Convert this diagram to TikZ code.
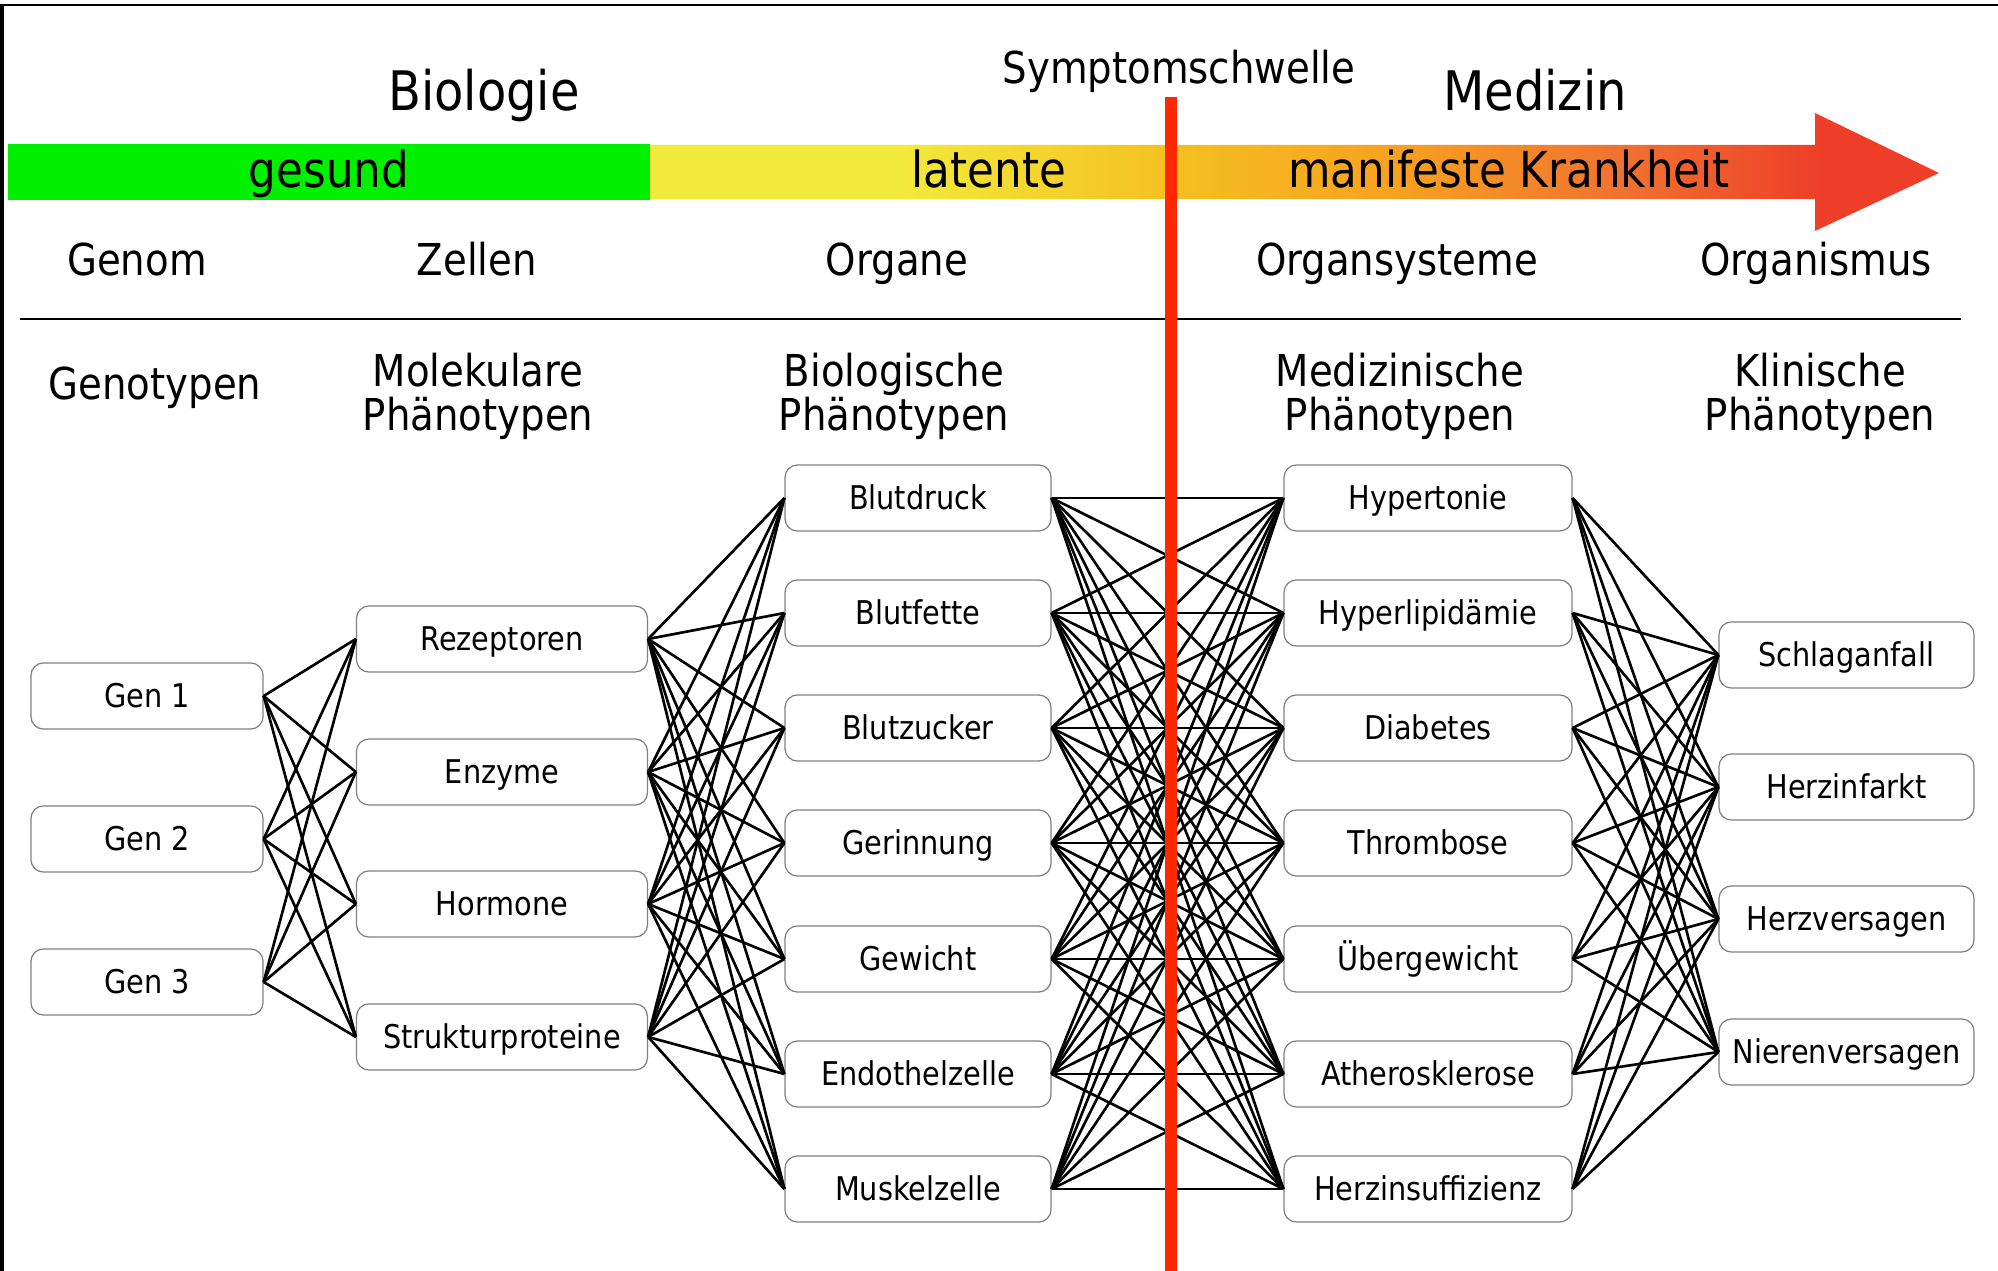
\documentclass[tikz,border=0pt]{standalone}
\usepackage{fontspec}
\setmainfont{DejaVu Sans}[FakeStretch=0.88]
\definecolor{gesundgreen}{RGB}{0,240,0}
\definecolor{latentyellow}{RGB}{242,234,58}
\definecolor{krankgold}{RGB}{245,192,32}
\definecolor{krankorange}{RGB}{247,160,32}
\definecolor{krankorangered}{RGB}{240,112,48}
\definecolor{krankred}{RGB}{238,62,40}
\definecolor{schwellered}{RGB}{255,40,0}
\pgfdeclarehorizontalshading{krankheit}{100bp}{color(0bp)=(latentyellow);
  color(34.7bp)=(latentyellow); color(45.2bp)=(krankgold); color(54.2bp)=(krankorange);
  color(62.9bp)=(krankorangered); color(70.5bp)=(krankred); color(100bp)=(krankred)}

\begin{document}
\begin{tikzpicture}[
  n/.style={draw=black!50, line width=0.35pt, rounded corners=3.5pt, fill=white,
    font=\fontsize{9.3}{11}\selectfont, minimum height=0.66cm, inner ysep=0pt,
    text height=6.8pt, text depth=0pt},
  c1/.style={n, minimum width=2.32cm},
  c2/.style={n, minimum width=2.91cm},
  c3/.style={n, minimum width=2.66cm},
  c4/.style={n, minimum width=2.88cm},
  c5/.style={n, minimum width=2.55cm},
  l/.style={line width=0.75pt},
  big/.style={anchor=base, font=\fontsize{15.5}{18}\selectfont},
  sw/.style={anchor=base, font=\fontsize{12.5}{15}\selectfont},
  bandtext/.style={anchor=base, font=\fontsize{14.1}{17}\selectfont},
  hd/.style={anchor=base, align=center, font=\fontsize{12.5}{12.7}\selectfont},
  thresh/.style={draw=schwellered, line width=3.6pt}
]
\useasboundingbox (0,0) rectangle (19.98,-12.71);
% frame
\draw[line width=0.7pt] (0,-0.05) -- (19.98,-0.05);
\draw[line width=0.9pt] (0.02,-0.05) -- (0.02,-12.71);

% band: gesund -> latente -> manifeste Krankheit
\fill[gesundgreen] (0.08,-1.44) rectangle (6.50,-2.00);
\shade[shading=krankheit]
  (6.50,-1.45) -- (18.15,-1.45) -- (18.15,-1.13) -- (19.39,-1.73)
  -- (18.15,-2.31) -- (18.15,-1.99) -- (6.50,-1.99) -- cycle;

\node[big] (bio) at (4.84,-1.11) {Biologie};
\node[big] (med) at (15.35,-1.11) {Medizin};
\node[sw] (schwelle) at (11.79,-0.84) {Symptomschwelle};
\node[bandtext] (gesund) at (3.29,-1.88) {gesund};
\node[bandtext] (latent) at (9.89,-1.88) {latente};
\node[bandtext] (manifest) at (15.09,-1.88) {manifeste Krankheit};

% levels
\node[sw] (genom) at (1.37,-2.76) {Genom};
\node[sw] (zellen) at (4.77,-2.76) {Zellen};
\node[sw] (organe) at (8.97,-2.76) {Organe};
\node[sw] (osys) at (13.97,-2.76) {Organsysteme};
\node[sw] (orgm) at (18.16,-2.76) {Organismus};
\draw[line width=0.8pt] (0.20,-3.19) -- (19.61,-3.19);

\node[hd] (hgen) at (1.55,-4.00) {Genotypen};
\node[hd] (hmol) at (4.78,-4.31) {Molekulare\\Phänotypen};
\node[hd] (hbio) at (8.94,-4.31) {Biologische\\Phänotypen};
\node[hd] (hmed) at (14.00,-4.31) {Medizinische\\Phänotypen};
\node[hd] (hkli) at (18.20,-4.31) {Klinische\\Phänotypen};

% columns
\node[c1] (g1) at (1.47,-6.96) {Gen 1};
\node[c1] (g2) at (1.47,-8.39) {Gen 2};
\node[c1] (g3) at (1.47,-9.82) {Gen 3};

\node[c2] (m1) at (5.02,-6.39) {Rezeptoren};
\node[c2] (m2) at (5.02,-7.72) {Enzyme};
\node[c2] (m3) at (5.02,-9.04) {Hormone};
\node[c2] (m4) at (5.02,-10.37) {Strukturproteine};

\node[c3] (b1) at (9.18,-4.98) {Blutdruck};
\node[c3] (b2) at (9.18,-6.13) {Blutfette};
\node[c3] (b3) at (9.18,-7.28) {Blutzucker};
\node[c3] (b4) at (9.18,-8.43) {Gerinnung};
\node[c3] (b5) at (9.18,-9.59) {Gewicht};
\node[c3] (b6) at (9.18,-10.74) {Endothelzelle};
\node[c3] (b7) at (9.18,-11.89) {Muskelzelle};

\node[c4] (d1) at (14.28,-4.98) {Hypertonie};
\node[c4] (d2) at (14.28,-6.13) {Hyperlipidämie};
\node[c4] (d3) at (14.28,-7.28) {Diabetes};
\node[c4] (d4) at (14.28,-8.43) {Thrombose};
\node[c4] (d5) at (14.28,-9.59) {Übergewicht};
\node[c4] (d6) at (14.28,-10.74) {Atherosklerose};
\node[c4] (d7) at (14.28,-11.89) {Herzinsuffizienz};

\node[c5] (k1) at (18.465,-6.55) {Schlaganfall};
\node[c5] (k2) at (18.465,-7.87) {Herzinfarkt};
\node[c5] (k3) at (18.465,-9.19) {Herzversagen};
\node[c5] (k4) at (18.465,-10.52) {Nierenversagen};

% every box is linked to every box of the next column
\foreach \i in {1,2,3} \foreach \j in {1,...,4} \draw[l] (g\i.east) -- (m\j.west);
\foreach \i in {1,...,4} \foreach \j in {1,...,7} \draw[l] (m\i.east) -- (b\j.west);
\foreach \i in {1,...,7} \foreach \j in {1,...,7} \draw[l] (b\i.east) -- (d\j.west);
\foreach \i in {1,...,7} \foreach \j in {1,...,4} \draw[l] (d\i.east) -- (k\j.west);

% Symptomschwelle
\draw[thresh] (11.71,-0.97) -- (11.71,-12.71);
\end{tikzpicture}
\end{document}
